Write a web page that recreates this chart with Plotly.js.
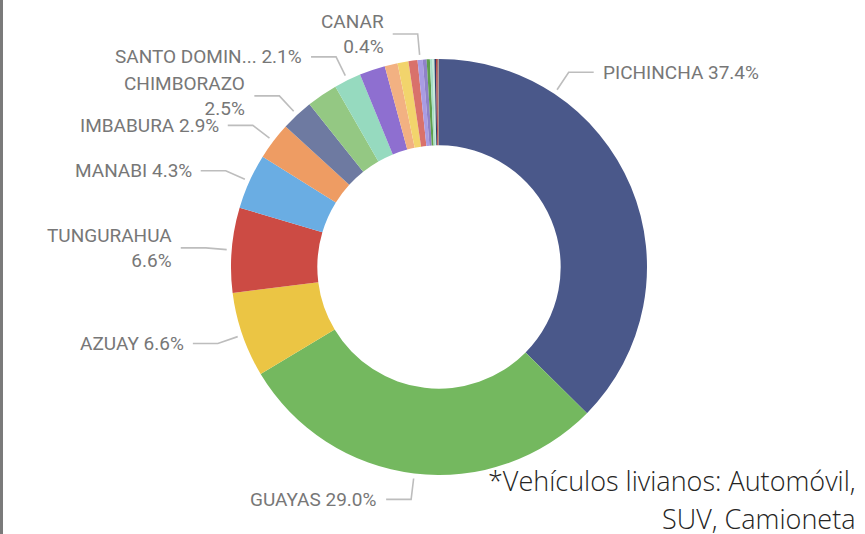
<!DOCTYPE html>
<html>
<head>
<meta charset="utf-8">
<script src="https://cdn.plot.ly/plotly-3.0.1.min.js"></script>
<style>
html,body{margin:0;padding:0;background:#fff;overflow:hidden}
#chart{width:865px;height:534px}
#edge{position:absolute;left:0;top:0;width:3px;height:534px;background:#7a7a7a}
</style>
</head>
<body>
<div id="chart"></div>
<div id="edge"></div>
<script>
// ---- data ----
const provinces = ['PICHINCHA','GUAYAS','AZUAY','TUNGURAHUA','MANABI','IMBABURA','CHIMBORAZO',
  'LOJA','SANTO DOMINGO','EL ORO','COTOPAXI','LOS RIOS','ESMERALDAS','CANAR',
  'SANTA ELENA','CARCHI','SUCUMBIOS','BOLIVAR','ORELLANA','NAPO','PASTAZA','MORONA SANTIAGO'];
const shares = [37.4, 29.0, 6.6, 6.6, 4.3, 2.9, 2.5,
  2.4, 2.1, 2.0, 1.0, 0.85, 0.7, 0.4,
  0.3, 0.25, 0.2, 0.15, 0.12, 0.1, 0.08, 0.05];
const colors = ['#4a588a','#74b85f','#ebc544','#cc4b44','#6aade3','#ee9c63','#6e7aa1',
  '#94c883','#96dabf','#8e6fd0','#f2b182','#f2d46c','#d9716b','#a99ce3',
  '#8f82c8','#5e9e4c','#a8dec6','#c4e8d8','#2e3c6b','#b8423c','#8c4a46','#9a8f86'];
const labelled = ['PICHINCHA','GUAYAS','AZUAY','TUNGURAHUA','MANABI','IMBABURA','CHIMBORAZO','SANTO DOMINGO','CANAR'];
const twoLineLabels = ['TUNGURAHUA','CHIMBORAZO','CANAR'];
const noteLines = ['*Vehículos livianos: Automóvil,', 'SUV, Camioneta'];

// ---- layout geometry ----
const W = 865, H = 534, CX = 439, CY = 267, R = 208;
const anchorFrac = {PICHINCHA: 0.25};
const labelFont = {family: 'Roboto, "DejaVu Sans Condensed", sans-serif', size: 19, color: '#777777'};

const total = shares.reduce((a, b) => a + b, 0);
const traces = [{
  type: 'pie', values: shares, labels: provinces,
  marker: {colors: colors, line: {width: 0}},
  hole: 0.585, sort: false, direction: 'clockwise', rotation: 0,
  textinfo: 'none', hoverinfo: 'skip', showlegend: false,
  domain: {x: [(CX - R) / W, (CX + R) / W], y: [1 - (CY + R) / H, 1 - (CY - R) / H]}
}];
const annotations = [];

function shortName(n) { return n.length > 11 ? n.slice(0, 11) + '...' : n; }

let cum = 0;
provinces.forEach((name, i) => {
  const v = shares[i];
  const start = cum;
  cum += v;
  if (!labelled.includes(name)) return;
  const f = anchorFrac[name] !== undefined ? anchorFrac[name] : 0.5;
  const t = (start + f * v) / total * 2 * Math.PI;
  const s = Math.sin(t), c = Math.cos(t);
  const p1 = [CX + (R + 5) * s, CY - (R + 5) * c];
  const p2 = [CX + (R + 26) * s, CY - (R + 26) * c];
  const side = s >= 0 ? 1 : -1;
  const p3 = [p2[0] + side * 25, p2[1]];
  traces.push({
    type: 'scatter', mode: 'lines', x: [p1[0], p2[0], p3[0]], y: [p1[1], p2[1], p3[1]],
    line: {color: '#bdbdbd', width: 1.6}, hoverinfo: 'skip', showlegend: false
  });
  const pct = (v / total * 100).toFixed(1) + '%';
  const txt = shortName(name) + (twoLineLabels.includes(name) ? '<br>' : ' ') + pct;
  annotations.push({
    x: p3[0] + side * 7, y: p3[1], xref: 'x', yref: 'y', text: txt, showarrow: false,
    xanchor: side > 0 ? 'left' : 'right', yanchor: 'middle', align: side > 0 ? 'left' : 'right',
    font: labelFont
  });
});

const noteFont = {family: '"Open Sans", "Noto Sans", sans-serif', size: 27, color: '#252423', weight: 300};
annotations.push({x: 858, y: 480, xref: 'x', yref: 'y', text: noteLines[0], showarrow: false,
  xanchor: 'right', yanchor: 'middle', align: 'right', font: noteFont});
annotations.push({x: 858, y: 518, xref: 'x', yref: 'y', text: noteLines[1], showarrow: false,
  xanchor: 'right', yanchor: 'middle', align: 'right', font: noteFont});

const layout = {
  width: W, height: H, margin: {l: 0, r: 0, t: 0, b: 0, pad: 0},
  paper_bgcolor: '#ffffff', plot_bgcolor: 'rgba(0,0,0,0)', showlegend: false,
  xaxis: {range: [0, W], visible: false, fixedrange: true},
  yaxis: {range: [H, 0], visible: false, fixedrange: true},
  annotations: annotations
};
Plotly.newPlot('chart', traces, layout, {staticPlot: true, displayModeBar: false});
</script>
</body>
</html>
